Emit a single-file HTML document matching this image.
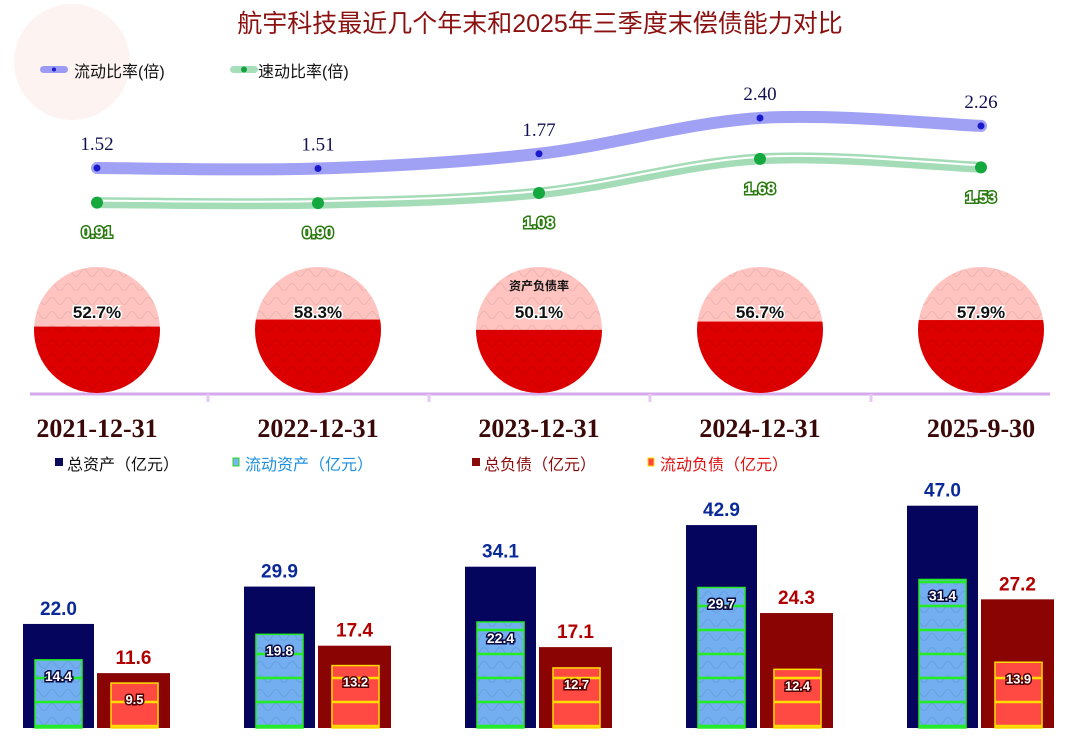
<!DOCTYPE html>
<html><head><meta charset="utf-8">
<style>
html,body{margin:0;padding:0;background:#fff;}
#wrap{position:relative;width:1080px;height:739px;overflow:hidden;font-family:"Liberation Sans","Noto Sans CJK SC",sans-serif;}
</style></head>
<body>
<div id="wrap">
<svg id="chart" width="1080" height="739" viewBox="0 0 1080 739" xmlns="http://www.w3.org/2000/svg" font-family="Liberation Sans, Noto Sans CJK SC, sans-serif">
<defs>
<pattern id="net" width="16" height="14" patternUnits="userSpaceOnUse">
<path d="M0 7 Q4 0 8 7 Q12 14 16 7" fill="none" stroke="rgba(0,0,0,0.08)" stroke-width="1"/>
</pattern>
</defs>
<circle cx="72" cy="62" r="58" fill="#fdf4f2"/>
<text x="540" y="32" text-anchor="middle" font-size="25" fill="#8b1010">航宇科技最近几个年末和2025年三季度末偿债能力对比</text>
<g>
<rect x="40" y="66" width="28" height="7" rx="3.5" fill="#9b9bf5"/>
<circle cx="54" cy="69.5" r="2" fill="#1c1ccc"/>
<text x="74" y="77" font-size="16" fill="#111">流动比率(倍)</text>
</g>
<g>
<rect x="230" y="66" width="28" height="7" rx="3.5" fill="#a7dfbb"/>
<circle cx="244" cy="69.5" r="3" fill="#16a040"/>
<text x="258" y="77" font-size="16" fill="#111">速动比率(倍)</text>
</g>
<line x1="30" y1="394" x2="1050" y2="394" stroke="#d6a8ee" stroke-width="3"/>
<g id="g-line"></g>
<g id="g-pie"></g>
<g id="g-axis"></g>
<g>
<g><rect x="55" y="458" width="8" height="8" fill="#0a0a5a"/><text x="67" y="470" font-size="16" fill="#111">总资产（亿元）</text></g>
<g><rect x="233" y="458" width="6" height="8" fill="#7ab4ee" stroke="#22dd22" stroke-width="1"/><text x="245" y="470" font-size="16" fill="#1e90e0">流动资产（亿元）</text></g>
<g><rect x="472" y="458" width="8" height="8" fill="#8b0a0a"/><text x="484" y="470" font-size="16" fill="#8b0a0a">总负债（亿元）</text></g>
<g><rect x="648" y="458" width="6" height="8" fill="#ff4444" stroke="#ffdd00" stroke-width="1"/><text x="660" y="470" font-size="16" fill="#e01010">流动负债（亿元）</text></g>
</g>
<g id="g-bar"></g>
</svg>
</div>
<script>
const categories = ["2021-12-31","2022-12-31","2023-12-31","2024-12-31","2025-9-30"];
const currentRatio = [1.52,1.51,1.77,2.40,2.26];
const quickRatio = [0.91,0.90,1.08,1.68,1.53];
const debtRatio = [52.7,58.3,50.1,56.7,57.9];
const totalAssets = [22.0,29.9,34.1,42.9,47.0];
const currentAssets = [14.4,19.8,22.4,29.7,31.4];
const totalLiab = [11.6,17.4,17.1,24.3,27.2];
const currentLiab = [9.5,13.2,12.7,12.4,13.9];

const NS="http://www.w3.org/2000/svg";
function mk(tag,attrs,parent){const e=document.createElementNS(NS,tag);for(const k in attrs)e.setAttribute(k,attrs[k]);parent.appendChild(e);return e;}
const xc = i => 97 + 221*i;
const yRatio = v => 254.3 - 56.8*v;
const yBar = v => 728 - 4.73*v;
const PIE_CY=330, PIE_R=63;
const SERIF="Liberation Serif, Noto Serif CJK SC, serif";

function smooth(pts){
  let d="M"+pts[0][0]+" "+pts[0][1];
  for(let i=0;i<pts.length-1;i++){
    const p0=pts[Math.max(0,i-1)],p1=pts[i],p2=pts[i+1],p3=pts[Math.min(pts.length-1,i+2)];
    const c1x=p1[0]+(p2[0]-p0[0])/6,c1y=p1[1]+(p2[1]-p0[1])/6;
    const c2x=p2[0]-(p3[0]-p1[0])/6,c2y=p2[1]-(p3[1]-p1[1])/6;
    d+=` C${c1x} ${c1y} ${c2x} ${c2y} ${p2[0]} ${p2[1]}`;
  }
  return d;
}
const gl=document.getElementById('g-line');
const cp=currentRatio.map((v,i)=>[xc(i),yRatio(v)]);
const qp=quickRatio.map((v,i)=>[xc(i),yRatio(v)]);
let e;
e=mk('path',{d:smooth(cp),fill:'none',stroke:'#a0a0f4',"stroke-width":12,"stroke-linecap":"round"},gl);


e=mk('path',{d:smooth(qp),fill:'none',stroke:'#a5dcb8',"stroke-width":11,"stroke-linecap":"round"},gl);


mk('path',{d:smooth(qp),fill:'none',stroke:'#ffffff',"stroke-width":2,transform:"translate(0,-2)"},gl);
cp.forEach((p,i)=>{
  e=mk('circle',{cx:p[0],cy:p[1],r:3.5,fill:'#1a1acc'},gl);
  
  
  e=mk('text',{x:p[0],y:p[1]-18,"text-anchor":"middle","font-size":19,fill:"#101050","font-family":SERIF},gl);
  e.textContent=currentRatio[i].toFixed(2);
  
  
});
qp.forEach((p,i)=>{
  e=mk('circle',{cx:p[0],cy:p[1],r:6,fill:'#14a83e'},gl);
  
  
  e=mk('text',{x:p[0],y:p[1]+35,"text-anchor":"middle","font-size":16,"font-weight":"bold",fill:"#ffffff",stroke:"#2a7a10","stroke-width":3,"paint-order":"stroke"},gl);
  e.textContent=quickRatio[i].toFixed(2);
  
  
});

const gp=document.getElementById('g-pie');
debtRatio.forEach((v,i)=>{
  const cx=xc(i);
  const g=mk('g',{},gp);
  
  
  const cid='clip'+i;
  const cl=mk('clipPath',{id:cid},g);
  mk('circle',{cx:cx,cy:PIE_CY,r:PIE_R},cl);
  mk('circle',{cx:cx,cy:PIE_CY,r:PIE_R,fill:'#ffc4c0'},g);
  const h=2*PIE_R*v/100;
  mk('rect',{x:cx-PIE_R,y:PIE_CY+PIE_R-h,width:2*PIE_R,height:h,fill:'#dd0000',"clip-path":`url(#${cid})`},g);
  mk('circle',{cx:cx,cy:PIE_CY,r:PIE_R,fill:'url(#net)'},g);
  const t=mk('text',{x:cx,y:PIE_CY-12,"text-anchor":"middle","font-size":17,"font-weight":"bold",fill:"#111",stroke:"#fff","stroke-width":3,"paint-order":"stroke"},g);
  t.textContent=v.toFixed(1)+"%";
  if(i===2){const s=mk('text',{x:cx,y:PIE_CY-40,"text-anchor":"middle","font-size":12,"font-weight":"bold",fill:"#111"},g);s.textContent="资产负债率";}
});

const ga=document.getElementById('g-axis');
categories.forEach((c,i)=>{
  e=mk('text',{x:xc(i),y:437,"text-anchor":"middle","font-size":26,"font-weight":"bold",fill:"#3a0808","font-family":SERIF},ga);
  e.textContent=c;
  
  
  if(i>0){mk('line',{x1:xc(i)-110,y1:394,x2:xc(i)-110,y2:402,stroke:'#e6c8f4',"stroke-width":3},ga);}
});

const gb=document.getElementById('g-bar');
function bar(x,w,v,fill,name){
  const r=mk('rect',{x:x,y:yBar(v),width:w,height:728-yBar(v),fill:fill},gb);
  
  
  return r;
}
function stripes(x,w,v,col){
  for(let y=728-2;y>yBar(v);y-=24){mk('line',{x1:x,y1:y,x2:x+w,y2:y,stroke:col,"stroke-width":2.5},gb);}
  mk('rect',{x:x,y:yBar(v),width:w,height:728-yBar(v),fill:'none',stroke:col,"stroke-width":1.5},gb);
}
function label(x,y,txt,size,fill,stroke,name){
  const t=mk('text',{x:x,y:y,"text-anchor":"middle","font-size":size,"font-weight":"bold",fill:fill,stroke:stroke,"stroke-width":3,"paint-order":"stroke"},gb);
  t.textContent=txt;
  
  
}
categories.forEach((c,i)=>{
  const nx=23+221*i, rx=97+221*i;
  bar(nx,71,totalAssets[i],'#05055e','total-assets-bar');
  bar(rx,73,totalLiab[i],'#8a0404','total-liabilities-bar');
  bar(nx+12,47,currentAssets[i],'#72aef0','current-assets-bar');
  mk('rect',{x:nx+12,y:yBar(currentAssets[i]),width:47,height:728-yBar(currentAssets[i]),fill:'url(#net)'},gb);
  stripes(nx+12,47,currentAssets[i],'#22ee22');
  bar(rx+14,47,currentLiab[i],'#ff4a44','current-liabilities-bar');
  stripes(rx+14,47,currentLiab[i],'#ffdd00');
  label(nx+35.5,yBar(totalAssets[i])-9,totalAssets[i].toFixed(1),19,'#0a2a9a','#fff','total-assets-label');
  label(rx+36.5,yBar(totalLiab[i])-9,totalLiab[i].toFixed(1),19,'#b00000','#fff','total-liabilities-label');
  label(nx+35.5,yBar(currentAssets[i])+21,currentAssets[i].toFixed(1),14,'#fff','#0a0a40','current-assets-label');
  label(rx+37.5,yBar(currentLiab[i])+21,currentLiab[i].toFixed(1),13,'#fff','#500','current-liabilities-label');
});
</script>
</body></html>
